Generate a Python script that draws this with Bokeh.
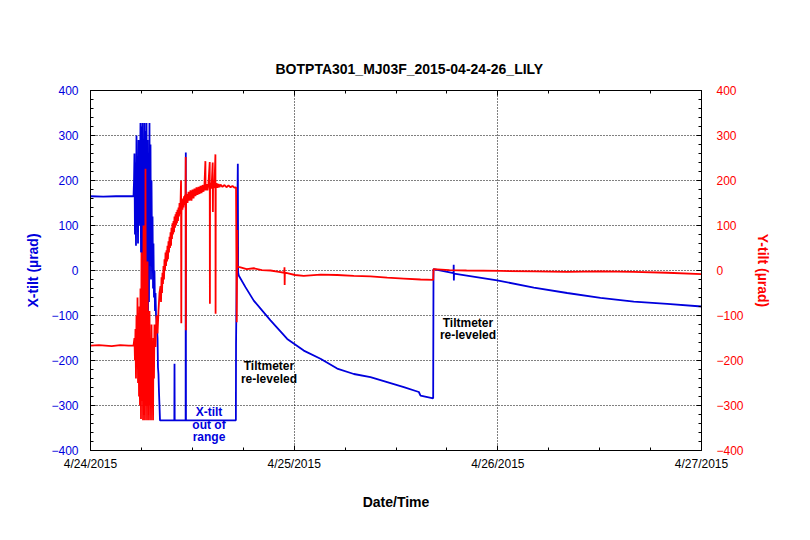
from bokeh.plotting import figure
from bokeh.models import Range1d, LinearAxis, FixedTicker, Label
from bokeh.embed import file_html
from bokeh.resources import INLINE

# ---------------- data (hours since 4/24/2015 00:00, tilt in µrad) ----------------
title_text = "BOTPTA301_MJ03F_2015-04-24-26_LILY"
x_tick_hours = [0, 24, 48, 72]
x_tick_labels = ["4/24/2015", "4/25/2015", "4/26/2015", "4/27/2015"]
x_minor_hours = [6, 12, 18, 30, 36, 42, 54, 60, 66]
y_ticks = [-400, -300, -200, -100, 0, 100, 200, 300, 400]
y_minor = [v for v in range(-400, 401, 20)]

xtilt_hours = [0, 1.5, 3, 4.5, 5.07,
               5.13, 5.18, 5.24, 5.30, 5.36, 5.42, 5.48, 5.54, 5.60, 5.66, 5.72, 5.77, 5.83, 5.89, 5.95,
               6.01, 6.07, 6.13, 6.19, 6.25, 6.30, 6.36, 6.42, 6.48, 6.54, 6.60, 6.66, 6.72, 6.78, 6.83,
               6.89, 6.95, 7.01, 7.07, 7.13, 7.19, 7.25, 7.31, 7.37, 7.42, 7.48, 7.54, 7.60, 7.66, 7.72,
               7.78, 7.90, 7.95, 8.01, 8.07, 8.13, 8.19, 8.25,
               9.88, 9.90, 9.92, 11.21, 11.23, 11.25,
               17.13, 17.15, 17.36, 17.40, 17.47, 18.26, 19.24, 21.21, 23.18, 25.13, 27.10, 29.07,
               31.03, 32.99, 34.96, 36.92, 38.69, 38.89, 40.38, 40.42, 42.78, 42.80, 42.82, 42.84,
               47.92, 52.24, 56.17, 60.10, 64.02, 67.96, 72.0]
xtilt_urad = [165, 164, 165, 165, 165,
              200, 260, 80, 240, 55, 300, 120, 210, 60, 290, 100, 240, 170, 328, 40,
              320, -20, 328, 110, 250, -30, 328, 60, 310, -60, 328, 20, 290, -90, 200,
              -70, 328, 10, 280, -20, 200, 30, 120, -40, 60, -60, 0, -90, -50, -100,
              -110, -150, -215, -230, -270, -300, -333, -333,
              -333, -207, -333, -333, 262, -333,
              -333, -163, 237, -5, -11, -37, -67, -111, -152, -178, -196, -218,
              -230, -237, -248, -259, -270, -278, -284, 3, -6, 13, -22, -7,
              -22, -38, -50, -61, -69, -74, -80]

ytilt_hours = [0, 1, 2.5, 3.5, 4.5, 5.07,
               5.18, 5.24, 5.30, 5.36, 5.42, 5.48, 5.54, 5.60, 5.66, 5.72, 5.77, 5.83, 5.89, 5.95,
               6.01, 6.07, 6.13, 6.19, 6.25, 6.30, 6.36, 6.42, 6.48, 6.54, 6.60, 6.66, 6.72, 6.78,
               6.83, 6.89, 6.95, 7.01, 7.07, 7.13, 7.19, 7.25, 7.31, 7.37, 7.42, 7.48, 7.54, 7.66,
               7.78, 7.90, 8.01, 8.13,
               8.25, 8.31, 8.37, 8.43, 8.48, 8.54, 8.60, 8.66, 8.72, 8.78, 8.84, 8.90, 8.96, 9.02,
               9.07, 9.13, 9.19, 9.25, 9.31, 9.37, 9.43, 9.49, 9.54, 9.60, 9.66, 9.72, 9.78, 9.84,
               9.90, 9.96, 10.02, 10.08, 10.13, 10.19, 10.25, 10.31, 10.37, 10.43, 10.49, 10.55,
               10.61, 10.67, 10.70, 10.72, 10.78, 10.84, 10.90, 10.96, 11.02, 11.08, 11.14, 11.19,
               11.22, 11.24, 11.26, 11.31, 11.43, 11.55, 11.66, 11.78, 11.90, 12.02, 12.14, 12.25,
               12.37, 12.49, 12.61, 12.73, 12.85, 12.96, 13.08, 13.20, 13.32, 13.43, 13.54, 13.56,
               13.67, 13.78, 13.90, 14.05, 14.07, 14.09, 14.17, 14.26, 14.40, 14.42, 14.44, 14.52,
               14.60, 14.72, 14.74, 14.76, 14.86, 14.97, 15.08, 15.20, 15.32, 15.55, 15.79, 16.02,
               16.26, 16.50, 16.73, 16.95, 17.15, 17.23, 17.29,
               17.32, 17.44, 17.68, 18.4, 19.24, 20.2, 21.21, 22.2, 22.84, 22.86, 22.88, 22.90,
               23.18, 24.1, 25.13, 27.10, 29.07, 31.03, 32.99, 34.96, 36.92, 38.89, 40.38, 40.42,
               42.3, 44.31, 48.31, 52.24, 56.17, 60.10, 64.02, 67.96, 72.0]
ytilt_urad = [-167, -166, -168, -166, -167, -167,
              -150, -200, -130, -240, -100, -210, -60, -250, -120, -280, -80, -300, -40, -330,
              40, -290, -30, -333, 100, -320, -10, -333, 226, -300, -60, -333, 20, -290,
              -120, -333, -90, -300, -150, -333, -120, -280, -200, -333, -150, -240, -120, -170,
              -100, -140, -90, -50,
              -35, -70, -15, -50, -5, -30, 10, -20, 25, 0, 40, 10, 45, 20,
              55, 25, 65, 40, 75, 50, 85, 55, 95, 70, 105, 80, 110, 85,
              120, 95, 125, 100, 130, 105, 135, 110, 140, 120, 150, 125,
              150, 200, -117, 130, 155, 135, 160, 140, 165, 145, 168, 150,
              252, -133, 150, 170, 150, 175, 155, 178, 155, 180, 160, 182,
              165, 185, 168, 186, 170, 188, 172, 190, 175, 190, 243, 178,
              192, 178, 193, 241, -74, 180, 195, 182, 240, 130, 184, 194,
              183, 258, -96, 186, 194, 184, 192, 185, 191, 186, 190, 185,
              189, 185, 188, 184, 185, -115, 90,
              10, 8, 7, 3, 5, 1, 0, -3, -5, 7, -32, -5,
              -6, -10, -12, -9, -10, -12, -13, -16, -18, -20, -21, 3,
              1, 0, -1, -2, -3, -2, -3, -5, -8]

BLUE = "#0000dd"
RED = "#ff0000"
FONT = "Liberation Sans"

p = figure(width=800, height=530, x_range=Range1d(0, 72), y_range=Range1d(-400, 400),
           output_backend="svg", toolbar_location=None,
           min_border_left=90, min_border_right=99, min_border_top=90, min_border_bottom=80,
           title=title_text)
p.extra_y_ranges = {"yt": Range1d(-400, 400)}
p.background_fill_color = "white"
p.border_fill_color = "white"
p.outline_line_color = "black"
p.outline_line_width = 1

p.title.align = "left"
p.title.offset = 185
p.title.text_font = FONT
p.title.text_font_size = "14px"
p.title.text_font_style = "bold"
p.title.text_color = "black"
p.title.standoff = 27

def style_axis(ax, color):
    ax.axis_line_color = "black"
    ax.major_tick_in = 5
    ax.major_tick_out = 0
    ax.minor_tick_in = 3
    ax.minor_tick_out = 0
    ax.major_tick_line_color = "black"
    ax.minor_tick_line_color = "black"
    ax.major_label_text_font = FONT
    ax.major_label_text_font_size = "12px"
    ax.major_label_text_color = color
    ax.axis_label_text_font = FONT
    ax.axis_label_text_font_size = "14px"
    ax.axis_label_text_font_style = "bold"
    ax.axis_label_text_color = color

# bottom axis
xb = p.xaxis[0]
xb.ticker = FixedTicker(ticks=x_tick_hours, minor_ticks=x_minor_hours)
xb.major_label_overrides = {h: lab for h, lab in zip(x_tick_hours, x_tick_labels)}
style_axis(xb, "black")
xb.axis_label = "Date/Time"
xb.major_label_standoff = 6
xb.axis_label_standoff = 20

# left axis
yl = p.yaxis[0]
yl.ticker = FixedTicker(ticks=y_ticks, minor_ticks=y_minor)
style_axis(yl, BLUE)
yl.axis_label = "X-tilt (µrad)"
yl.major_label_standoff = 12
yl.axis_label_standoff = 7

# right axis
yr = LinearAxis(y_range_name="yt", ticker=FixedTicker(ticks=y_ticks, minor_ticks=y_minor))
style_axis(yr, RED)
yr.axis_label = "Y-tilt (µrad)"
yr.major_label_standoff = 15
yr.axis_label_standoff = 8
p.add_layout(yr, "right")

# top axis (ticks only)
xt = LinearAxis(ticker=FixedTicker(ticks=x_tick_hours, minor_ticks=x_minor_hours))
style_axis(xt, "black")
xt.major_label_overrides = {h: "" for h in x_tick_hours}
xt.major_label_standoff = 0
p.add_layout(xt, "above")

# grid
for g in (p.xgrid[0], p.ygrid[0]):
    g.grid_line_color = "black"
    g.grid_line_dash = "1 2"
    g.grid_line_width = 1
p.xgrid[0].ticker = FixedTicker(ticks=x_tick_hours)
p.ygrid[0].ticker = FixedTicker(ticks=y_ticks)

# series
p.line(xtilt_hours, xtilt_urad, line_color=BLUE, line_width=1.8)
p.line(ytilt_hours, ytilt_urad, line_color=RED, line_width=1.8, y_range_name="yt")

# annotations
def note(x, y, text, color):
    p.add_layout(Label(x=x, y=y, text=text, text_align="center", text_baseline="middle",
                       text_font=FONT, text_font_size="12px", text_font_style="bold",
                       text_color=color))

note(13.96, -315, "X-tilt", BLUE)
note(13.96, -343, "out of", BLUE)
note(13.96, -370, "range", BLUE)
note(21.03, -213, "Tiltmeter", "black")
note(21.03, -240, "re-leveled", "black")
note(44.48, -117, "Tiltmeter", "black")
note(44.48, -144, "re-leveled", "black")

open("out.html", "w").write(file_html(p, INLINE))
